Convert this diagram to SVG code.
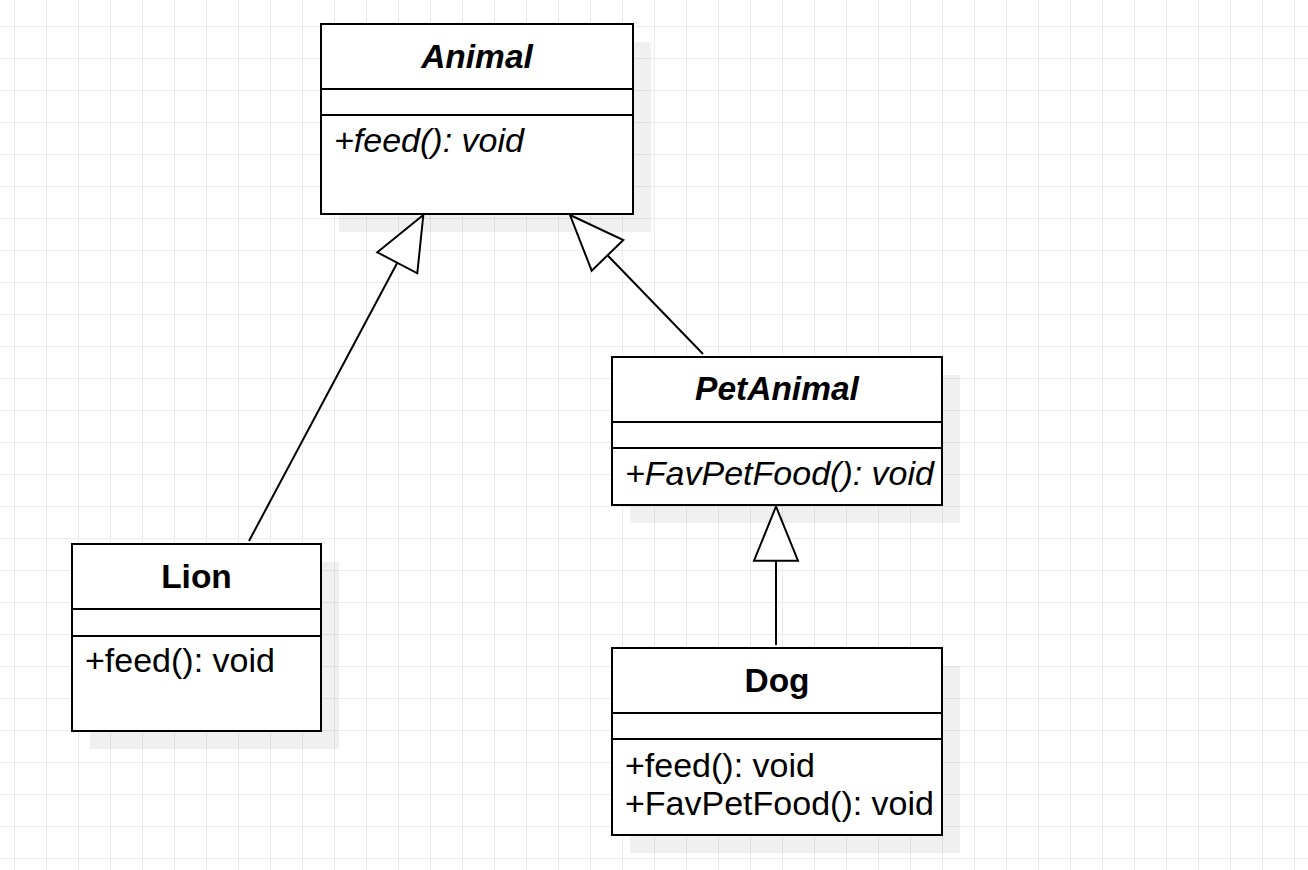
<svg xmlns="http://www.w3.org/2000/svg" width="1308" height="870" viewBox="0 0 1308 870">
<defs>
<pattern id="grid" x="14" y="26" width="32" height="32" patternUnits="userSpaceOnUse">
<path d="M0 0.5H32M0.5 0V32" fill="none" stroke="#ebebeb" stroke-width="1"/>
</pattern>
<style>
.box{fill:#ffffff;stroke:#000000;stroke-width:2}
.shadow{fill:#000000;fill-opacity:0.06;stroke:none}
.sep{stroke:#000000;stroke-width:2;fill:none}
.title{font-family:"Liberation Sans",Arial,sans-serif;font-size:33.5px;font-weight:bold;text-anchor:middle;fill:#000}
.abstract{font-style:italic}
.member{font-family:"Liberation Sans",Arial,sans-serif;font-size:34px;fill:#000}
.edge{stroke:#000000;stroke-width:2;fill:none}
.head{fill:#ffffff;stroke:#000000;stroke-width:2;stroke-linejoin:miter}
</style>
</defs>
<rect width="1308" height="870" fill="#ffffff"/>
<rect width="1308" height="870" fill="url(#grid)"/>

<g id="shadows">
<rect class="shadow" x="339" y="42" width="312" height="190"/>
<rect class="shadow" x="630" y="375" width="330" height="148"/>
<rect class="shadow" x="90" y="562" width="249" height="187"/>
<rect class="shadow" x="630" y="666" width="330" height="187"/>
</g>

<g id="connectors">
<g id="lion-animal">
<line class="edge" x1="249" y1="541" x2="397.3" y2="262.8"/>
<polygon class="head" points="423.3,215 377.3,252.3 417.3,273.3"/>
</g>
<g id="petanimal-animal">
<line class="edge" x1="703" y1="354" x2="607.5" y2="255.3"/>
<polygon class="head" points="570,215 623.3,240 591.7,270.7"/>
</g>
<g id="dog-petanimal">
<line class="edge" x1="776" y1="645" x2="776" y2="560.7"/>
<polygon class="head" points="776,506.5 754,560.7 798,560.7"/>
</g>
</g>

<g id="Animal">
<rect class="box" x="321" y="24" width="312" height="190"/>
<line class="sep" x1="321" y1="89" x2="633" y2="89"/>
<line class="sep" x1="321" y1="115" x2="633" y2="115"/>
<text class="title abstract" x="477" y="68">Animal</text>
<text class="member abstract" x="334" y="152">+feed(): void</text>
</g>

<g id="PetAnimal">
<rect class="box" x="612" y="357" width="330" height="148"/>
<line class="sep" x1="612" y1="422" x2="942" y2="422"/>
<line class="sep" x1="612" y1="448" x2="942" y2="448"/>
<text class="title abstract" x="777" y="400">PetAnimal</text>
<text class="member abstract" x="625" y="485">+FavPetFood(): void</text>
</g>

<g id="Lion">
<rect class="box" x="72" y="544" width="249" height="187"/>
<line class="sep" x1="72" y1="609" x2="321" y2="609"/>
<line class="sep" x1="72" y1="636" x2="321" y2="636"/>
<text class="title" x="196.5" y="588">Lion</text>
<text class="member" x="85" y="672">+feed(): void</text>
</g>

<g id="Dog">
<rect class="box" x="612" y="648" width="330" height="187"/>
<line class="sep" x1="612" y1="713" x2="942" y2="713"/>
<line class="sep" x1="612" y1="739" x2="942" y2="739"/>
<text class="title" x="777" y="692">Dog</text>
<text class="member" x="625" y="777">+feed(): void</text>
<text class="member" x="625" y="815">+FavPetFood(): void</text>
</g>
</svg>
